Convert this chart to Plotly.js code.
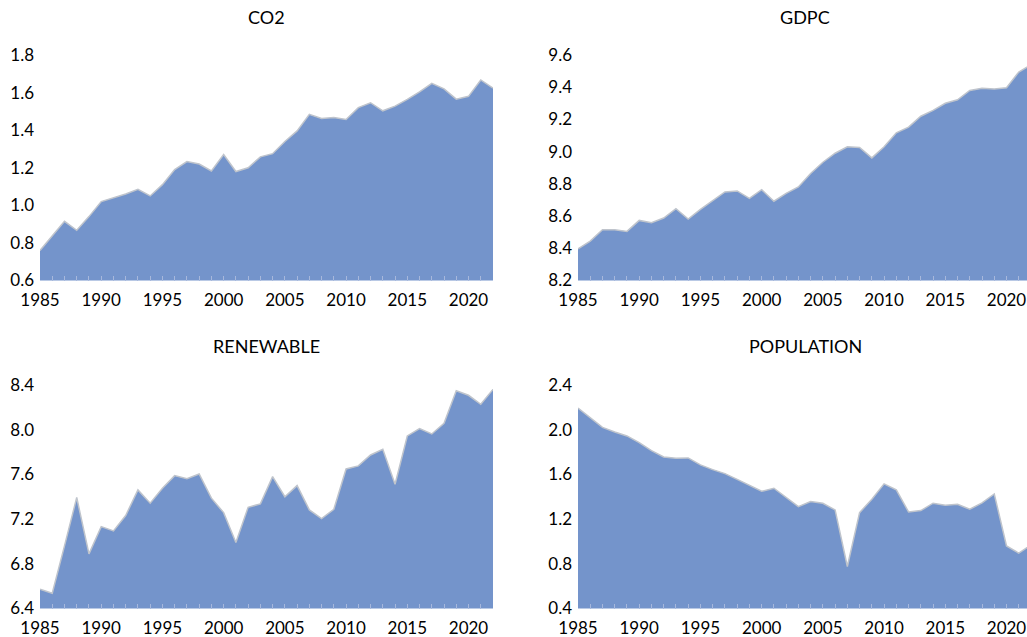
<!DOCTYPE html>
<html>
<head>
<meta charset="utf-8">
<script src="https://cdn.plot.ly/plotly-3.0.1.min.js"></script>
<style>html,body{margin:0;padding:0;background:#fff;}#chart{width:1027px;height:637px;}</style>
</head>
<body>
<div id="chart"></div>
<script>
const years = [1985,1986,1987,1988,1989,1990,1991,1992,1993,1994,1995,1996,1997,1998,1999,2000,2001,2002,2003,2004,2005,2006,2007,2008,2009,2010,2011,2012,2013,2014,2015,2016,2017,2018,2019,2020,2021,2022];

const co2 = [0.76,0.835,0.915,0.867,0.94,1.02,1.04,1.06,1.085,1.05,1.11,1.19,1.233,1.22,1.183,1.27,1.18,1.20,1.258,1.275,1.34,1.396,1.484,1.462,1.468,1.457,1.52,1.546,1.503,1.528,1.564,1.604,1.649,1.62,1.565,1.58,1.667,1.624];

const gdpc = [8.397,8.445,8.515,8.515,8.505,8.573,8.559,8.588,8.646,8.582,8.642,8.696,8.75,8.756,8.71,8.764,8.692,8.741,8.781,8.864,8.934,8.99,9.03,9.026,8.961,9.03,9.117,9.152,9.22,9.256,9.30,9.322,9.38,9.393,9.389,9.397,9.494,9.54];

const renewable = [6.573,6.537,6.96,7.393,6.889,7.133,7.094,7.232,7.461,7.342,7.476,7.589,7.562,7.604,7.387,7.258,6.99,7.306,7.336,7.58,7.40,7.50,7.282,7.205,7.288,7.649,7.676,7.774,7.825,7.512,7.944,8.01,7.962,8.057,8.349,8.308,8.227,8.361];

const population = [2.194,2.111,2.021,1.98,1.944,1.884,1.813,1.756,1.744,1.747,1.685,1.643,1.607,1.556,1.50,1.449,1.476,1.396,1.312,1.357,1.342,1.282,0.776,1.258,1.378,1.515,1.461,1.264,1.276,1.342,1.324,1.333,1.288,1.345,1.425,0.96,0.895,0.97];

const panelTitles = ['CO2','GDPC','RENEWABLE','POPULATION'];
const xTickVals = [1985,1990,1995,2000,2005,2010,2015,2020];
const xTickText = ['1985','1990','1995','2000','2005','2010','2015','2020'];

const FILL = '#7494CB';
const LINE = '#BFC4CC';
const FONT = 'Lato, "Open Sans", sans-serif';
const TXT = '#000';

const series = [co2, gdpc, renewable, population];
const traces = series.map((s, i) => ({
  type: 'scatter', mode: 'lines', x: years, y: s,
  fill: 'tozeroy', fillcolor: FILL,
  line: {color: LINE, width: 1.5},
  xaxis: i === 0 ? 'x' : 'x' + (i + 1),
  yaxis: i === 0 ? 'y' : 'y' + (i + 1),
  hoverinfo: 'x+y', showlegend: false
}));

const W = 1027, H = 637;
const leftDom = [40 / W, 493 / W];
const rightDom = [578 / W, 1];
const pxPerYear = 453 / 37;
const rightEnd = 1985 + (W - 578) / pxPerYear;
const topDom = [1 - 280.5 / H, 1 - 55 / H];
const botDom = [1 - 608.5 / H, 1 - 385 / H];

function xax(dom, end, anchor) {
  return {
    domain: dom, range: [1985, end], anchor: anchor,
    tickvals: xTickVals, ticktext: xTickText,
    ticks: 'inside', ticklen: 5, tickcolor: '#A7B8DC', tickwidth: 1,
    minor: {tick0: 1985, dtick: 1, ticks: 'inside', ticklen: 5, tickcolor: '#A7B8DC', tickwidth: 1},
    ticklabelstandoff: 7,
    showgrid: false, zeroline: false, showline: false,
    tickfont: {family: FONT, size: 17, color: TXT}, fixedrange: true
  };
}
function yax(dom, rng, dt, anchor) {
  return {
    domain: dom, range: rng, anchor: anchor, dtick: dt, tick0: rng[0], tickformat: '.1f',
    ticks: '', ticklabelstandoff: 5, showgrid: false, zeroline: false, showline: false,
    tickfont: {family: FONT, size: 17, color: TXT}, fixedrange: true
  };
}

const titlePos = [[266.5, 17], [805, 17], [266.5, 346], [805, 346]];
const annotations = panelTitles.map((t, i) => ({
  text: t, xref: 'paper', yref: 'paper',
  x: titlePos[i][0] / W, y: 1 - titlePos[i][1] / H,
  xanchor: 'center', yanchor: 'middle', showarrow: false,
  font: {family: FONT, size: 18, color: TXT}
}));

const layout = {
  width: W, height: H,
  margin: {l: 0, r: 0, t: 0, b: 0},
  paper_bgcolor: '#fff', plot_bgcolor: 'rgba(0,0,0,0)',
  showlegend: false,
  xaxis: xax(leftDom, 2022, 'y'),
  yaxis: yax(topDom, [0.6, 1.8], 0.2, 'x'),
  xaxis2: xax(rightDom, rightEnd, 'y2'),
  yaxis2: yax(topDom, [8.2, 9.6], 0.2, 'x2'),
  xaxis3: xax(leftDom, 2022, 'y3'),
  yaxis3: yax(botDom, [6.4, 8.4], 0.4, 'x3'),
  xaxis4: xax(rightDom, rightEnd, 'y4'),
  yaxis4: yax(botDom, [0.4, 2.4], 0.4, 'x4'),
  annotations: annotations
};

Plotly.newPlot('chart', traces, layout, {displayModeBar: false, staticPlot: true});
</script>
</body>
</html>
